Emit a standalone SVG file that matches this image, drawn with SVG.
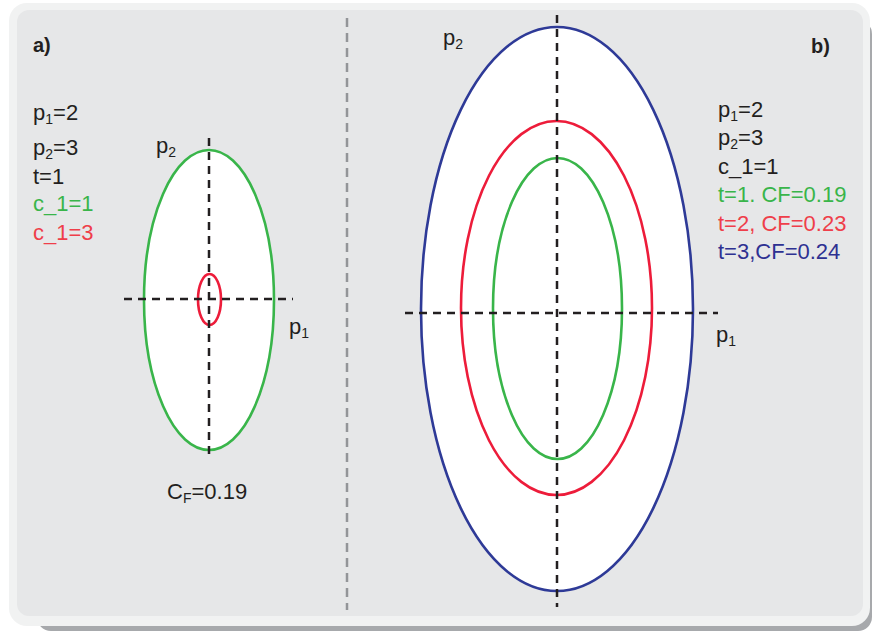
<svg xmlns="http://www.w3.org/2000/svg" width="872" height="631" viewBox="0 0 872 631">
<style>
.t{font-family:"Liberation Sans","Open Sans",sans-serif;font-size:22px;fill:#231f20}
.b{font-weight:bold;font-size:20px}
.s{font-size:14px}
.g{fill:#39b54a}.r{fill:#ef3e4a}.bl{fill:#2e3192}
.ax{fill:none;stroke:#231f20;stroke-width:2.5;stroke-dasharray:8 6}
.el{fill:#fff;stroke-width:2.6}
</style>
<rect width="872" height="631" fill="#fff"/>
<g id="frame">
<rect x="37" y="20" width="835" height="611" rx="14" fill="#a7a9ac"/>
<rect x="9" y="3" width="861" height="623" rx="18" fill="#f1f2f2"/>
<rect x="17" y="10" width="846" height="606" rx="12" fill="#e6e7e8"/>
<line x1="347" y1="18" x2="347" y2="610" stroke="#939598" stroke-width="2.5" stroke-dasharray="9 6"/>
</g>
<g id="panel-a">
<ellipse id="a-green" class="el" cx="209" cy="300" rx="65" ry="150" stroke="#39b54a"/>
<ellipse id="a-red" class="el" cx="209.5" cy="299.5" rx="11.5" ry="25.5" stroke="#ed1c3a"/>
</g>
<g id="panel-b">
<ellipse id="b-blue" class="el" cx="557" cy="309" rx="136" ry="282" stroke="#2e3a97"/>
<ellipse id="b-red" class="el" cx="556.5" cy="308" rx="95.5" ry="187" stroke="#ed1c3a"/>
<ellipse id="b-green" class="el" cx="557.5" cy="308.5" rx="64.5" ry="150.5" stroke="#39b54a"/>
</g>
<g id="connectors">
<line class="ax" x1="209" y1="138" x2="209" y2="458"/>
<line class="ax" x1="124" y1="299" x2="293" y2="299"/>
<line class="ax" x1="557" y1="15" x2="557" y2="607"/>
<line class="ax" x1="405" y1="313" x2="718" y2="313"/>
</g>
<g id="labels">
<text class="t b" x="33" y="52">a)</text>
<text class="t b" x="811" y="53">b)</text>
<text class="t" x="33" y="120">p<tspan class="s" dy="4">1</tspan><tspan dy="-4">=2</tspan></text>
<text class="t" x="33" y="155">p<tspan class="s" dy="4">2</tspan><tspan dy="-4">=3</tspan></text>
<text class="t" x="33" y="184">t=1</text>
<text class="t g" x="33" y="211">c_1=1</text>
<text class="t r" x="33" y="240">c_1=3</text>
<text class="t" x="156" y="153">p<tspan class="s" dy="4">2</tspan></text>
<text class="t" x="289" y="334">p<tspan class="s" dy="4">1</tspan></text>
<text class="t" x="167" y="499">C<tspan class="s" dy="4">F</tspan><tspan dy="-4">=0.19</tspan></text>
<text class="t" x="443" y="45">p<tspan class="s" dy="4">2</tspan></text>
<text class="t" x="716" y="342">p<tspan class="s" dy="4">1</tspan></text>
<text class="t" x="718" y="117">p<tspan class="s" dy="4">1</tspan><tspan dy="-4">=2</tspan></text>
<text class="t" x="718" y="145">p<tspan class="s" dy="4">2</tspan><tspan dy="-4">=3</tspan></text>
<text class="t" x="718" y="174">c_1=1</text>
<text class="t g" x="718" y="202">t=1. CF=0.19</text>
<text class="t r" x="718" y="231">t=2, CF=0.23</text>
<text class="t bl" x="718" y="259">t=3,CF=0.24</text>
</g>
</svg>
